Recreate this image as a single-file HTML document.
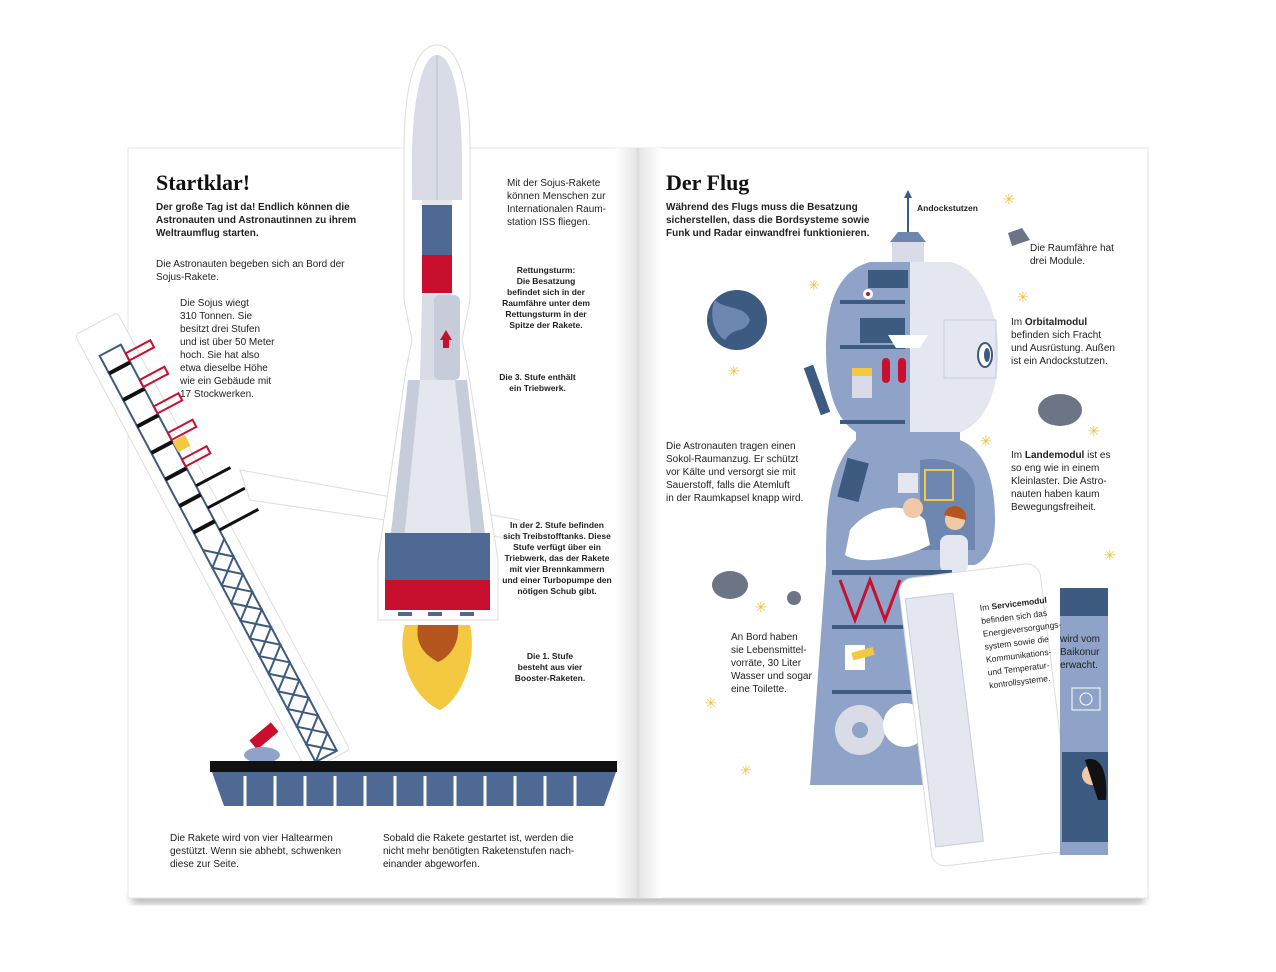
<!DOCTYPE html>
<html><head><meta charset="utf-8"><style>
html,body{margin:0;padding:0;background:#fff;}
body{width:1276px;height:972px;position:relative;overflow:hidden;font-family:"Liberation Sans",sans-serif;color:#222;}
.t{position:absolute;font-size:10px;line-height:13px;color:#222;white-space:nowrap;}
.b{font-weight:bold;font-size:8.5px;line-height:11px;text-align:center;}
h1{position:absolute;margin:0;font-family:"Liberation Serif",serif;font-size:22px;font-weight:bold;color:#111;}
</style></head><body>
<svg width="1276" height="972" style="position:absolute;left:0;top:0">
<defs>
<linearGradient id="gut" x1="0" x2="1"><stop offset="0" stop-color="#fff"/><stop offset="0.45" stop-color="#e6e6e6"/><stop offset="0.5" stop-color="#d9d9d9"/><stop offset="0.55" stop-color="#e6e6e6"/><stop offset="1" stop-color="#fff"/></linearGradient>
<filter id="sh"><feGaussianBlur stdDeviation="4"/></filter>
</defs>
<rect x="132" y="890" width="1012" height="14" fill="#bbb" filter="url(#sh)"/>
<rect x="128" y="148" width="1020" height="750" fill="#fff" stroke="#e6e6e6"/>
<rect x="615" y="148" width="46" height="750" fill="url(#gut)"/>
<polygon points="240,470 520,520 520,540 250,500" fill="#fff" stroke="#ddd"/>
<g transform="translate(75,335) rotate(-28)">
<rect x="0" y="0" width="48" height="495" rx="4" fill="#fff" stroke="#ddd"/>
<rect x="12" y="30" width="24" height="460" fill="none" stroke="#3d5a80" stroke-width="2"/>
<path d="M12,250 L36,270 L12,290 L36,310 L12,330 L36,350 L12,370 L36,390 L12,410 L36,430 L12,450 L36,470 L12,490" stroke="#3d5a80" stroke-width="2" fill="none"/>
<path d="M36,250 L12,270 L36,290 L12,310 L36,330 L12,350 L36,370 L12,390 L36,410 L12,430 L36,450 L12,470 L36,490" stroke="#3d5a80" stroke-width="2" fill="none"/>
<g stroke="#111" stroke-width="4"><line x1="12" y1="50" x2="36" y2="50"/><line x1="12" y1="80" x2="36" y2="80"/><line x1="12" y1="110" x2="36" y2="110"/><line x1="12" y1="140" x2="36" y2="140"/><line x1="12" y1="170" x2="36" y2="170"/><line x1="12" y1="200" x2="36" y2="200"/><line x1="12" y1="230" x2="36" y2="230"/></g>
<g stroke="#c8102e" stroke-width="2" fill="none"><rect x="36" y="40" width="28" height="8"/><rect x="36" y="70" width="28" height="8"/><rect x="36" y="100" width="28" height="8"/><rect x="36" y="130" width="28" height="8"/><rect x="36" y="160" width="28" height="8"/></g>
<rect x="36" y="140" width="14" height="12" fill="#f5c842"/>
<g stroke="#111" stroke-width="3"><line x1="36" y1="190" x2="75" y2="190"/><line x1="36" y1="215" x2="78" y2="215"/><line x1="36" y1="240" x2="80" y2="240"/></g>
</g>
<rect x="250" y="730" width="28" height="12" fill="#c8102e" transform="rotate(-40 264 736)"/>
<ellipse cx="262" cy="755" rx="18" ry="8" fill="#8fa3c8"/>
<rect x="210" y="761" width="407" height="11" fill="#111"/>
<polygon points="212,772 616,772 604,806 224,806" fill="#4d6994"/>
<g stroke="#fff" stroke-width="3">
<line x1="245" y1="776" x2="245" y2="806"/><line x1="275" y1="776" x2="275" y2="806"/><line x1="305" y1="776" x2="305" y2="806"/><line x1="335" y1="776" x2="335" y2="806"/><line x1="365" y1="776" x2="365" y2="806"/><line x1="395" y1="776" x2="395" y2="806"/><line x1="425" y1="776" x2="425" y2="806"/><line x1="455" y1="776" x2="455" y2="806"/><line x1="485" y1="776" x2="485" y2="806"/><line x1="515" y1="776" x2="515" y2="806"/><line x1="545" y1="776" x2="545" y2="806"/><line x1="575" y1="776" x2="575" y2="806"/>
</g>
<path d="M437,45 C460,45 470,90 470,150 L470,300 L462,340 L468,370 L498,560 L498,620 L378,620 L378,560 L406,370 L412,340 L404,300 L404,150 C404,90 414,45 437,45 Z" fill="#fff" stroke="#ddd"/>
<path d="M437,55 C455,55 462,110 462,160 L462,200 L412,200 L412,160 C412,110 420,55 437,55 Z" fill="#d9dce6"/>
<line x1="437" y1="55" x2="437" y2="200" stroke="#b9c0d2"/>
<rect x="422" y="200" width="30" height="95" fill="#e4e7ef"/>
<rect x="422" y="205" width="30" height="50" fill="#4d6994"/>
<rect x="422" y="255" width="30" height="38" fill="#c8102e"/>
<polygon points="422,295 452,295 455,380 420,380" fill="#d9dce6"/>
<rect x="434" y="295" width="26" height="85" rx="6" fill="#c6ccda"/>
<polygon points="446,330 440,340 452,340" fill="#c8102e"/><rect x="443" y="338" width="6" height="10" fill="#c8102e"/>
<polygon points="420,380 455,380 490,560 490,610 385,610 385,560" fill="#e4e7ef"/>
<polygon points="408,380 420,380 402,560 388,560" fill="#c6ccda"/>
<polygon points="455,380 467,380 488,560 474,560" fill="#c6ccda"/>
<rect x="385" y="533" width="105" height="47" fill="#4d6994"/>
<rect x="385" y="580" width="105" height="30" fill="#c8102e"/>
<g fill="#4d6994"><rect x="398" y="612" width="14" height="4"/><rect x="428" y="612" width="14" height="4"/><rect x="460" y="612" width="14" height="4"/></g>
<path d="M405,625 L470,625 C478,660 460,700 440,710 C415,700 395,660 405,625 Z" fill="#f5c842"/>
<path d="M418,625 L458,625 C460,645 448,658 438,662 C425,655 415,645 418,625 Z" fill="#b5561e"/>
<circle cx="737" cy="320" r="30" fill="#3d5a80"/>
<path d="M715,300 C725,310 745,305 750,320 C745,335 735,325 725,340 C715,335 708,315 715,300Z" fill="#6d87b0"/>
<path d="M1008,233 L1022,228 L1030,240 L1012,246Z" fill="#6b7585"/>
<ellipse cx="1060" cy="410" rx="22" ry="16" fill="#6b7585"/>
<ellipse cx="730" cy="585" rx="18" ry="14" fill="#6b7585"/>
<circle cx="794" cy="598" r="7" fill="#6b7585"/>
<g fill="#f0c040" font-size="14"><text x="1003" y="204">✳</text><text x="1017" y="302">✳</text><text x="1088" y="436">✳</text><text x="980" y="446">✳</text><text x="728" y="376">✳</text><text x="808" y="290">✳</text><text x="755" y="612">✳</text><text x="705" y="708">✳</text><text x="740" y="775">✳</text><text x="1012" y="815">✳</text><text x="978" y="836">✳</text><text x="1104" y="560">✳</text></g>
<line x1="908" y1="192" x2="908" y2="240" stroke="#3d5a80" stroke-width="2"/>
<polygon points="908,190 904,198 912,198" fill="#3d5a80"/>
<polygon points="890,242 926,242 918,232 898,232" fill="#6d87b0"/>
<rect x="892" y="242" width="32" height="20" fill="#d9dce6"/>
<path d="M870,262 L950,262 C985,270 998,320 998,350 C998,400 980,425 960,432 L960,440 C985,450 995,480 995,520 C995,550 985,560 975,565 L960,565 L960,785 L810,785 L826,565 C826,520 826,470 856,440 L856,432 C836,420 826,390 826,350 C826,300 840,270 870,262 Z" fill="#8fa3c8"/>
<path d="M910,262 L950,262 C985,270 998,320 998,350 C998,400 980,425 960,432 L910,432 Z" fill="#e4e7ef"/>
<ellipse cx="985" cy="355" rx="7" ry="12" fill="#fff" stroke="#3d5a80" stroke-width="2"/><ellipse cx="987" cy="355" rx="3" ry="7" fill="#3d5a80"/>
<rect x="944" y="320" width="52" height="58" fill="none" stroke="#c6ccda"/>
<g fill="#3d5a80"><rect x="840" y="300" width="65" height="4"/><rect x="840" y="345" width="65" height="4"/><rect x="840" y="420" width="65" height="4"/><rect x="868" y="270" width="40" height="18"/><rect x="860" y="318" width="45" height="25"/></g>
<rect x="882" y="358" width="8" height="25" rx="4" fill="#c8102e"/><rect x="898" y="358" width="8" height="25" rx="4" fill="#c8102e"/>
<rect x="852" y="368" width="20" height="30" fill="#d9dce6"/><rect x="852" y="368" width="20" height="8" fill="#f5c842"/>
<path d="M888,335 L928,335 L920,348 L896,348Z" fill="#fff"/>
<circle cx="868" cy="294" r="5" fill="#fff"/><circle cx="868" cy="294" r="2" fill="#c8102e"/>
<rect x="812" y="365" width="10" height="50" fill="#3d5a80" transform="rotate(-20 817 390)"/>
<path d="M920,460 C950,455 975,470 975,490 L975,550 L920,550Z" fill="#6d87b0"/>
<rect x="925" y="470" width="28" height="30" fill="none" stroke="#f5c842" stroke-width="2"/>
<rect x="842" y="460" width="22" height="40" fill="#3d5a80" transform="rotate(15 853 480)"/>
<rect x="898" y="473" width="20" height="20" fill="#e4e7ef"/>
<path d="M850,530 C870,505 905,500 925,520 L930,545 C900,560 860,565 845,555Z" fill="#fff"/>
<circle cx="913" cy="508" r="10" fill="#f2c9a8"/>
<circle cx="955" cy="520" r="10" fill="#f2c9a8"/><path d="M944,515 C948,500 968,505 966,520" fill="#b5561e"/>
<rect x="940" y="535" width="28" height="38" rx="8" fill="#e4e7ef"/>
<rect x="832" y="570" width="120" height="5" fill="#3d5a80"/>
<path d="M840,580 L855,620 L870,580 L885,620 L900,580" stroke="#c8102e" stroke-width="3" fill="none"/>
<rect x="832" y="625" width="100" height="4" fill="#3d5a80"/>
<rect x="845" y="645" width="20" height="25" fill="#fff"/><rect x="852" y="650" width="22" height="8" fill="#f5c842" transform="rotate(-15 862 654)"/>
<rect x="832" y="690" width="80" height="4" fill="#3d5a80"/>
<circle cx="860" cy="730" r="25" fill="#d9dce6"/><circle cx="860" cy="730" r="8" fill="#8fa3c8"/>
<circle cx="905" cy="725" r="22" fill="#fff"/>
<g transform="rotate(-7 985 715)">
<rect x="915" y="570" width="142" height="290" rx="14" fill="#fff" stroke="#ddd"/>
<rect x="920" y="590" width="48" height="250" fill="#e4e7ef" stroke="#c6ccda"/>
</g>
<path d="M1060,588 L1095,588 C1104,590 1108,598 1108,605 L1108,855 L1060,855 Z" fill="#8fa3c8"/>
<rect x="1060" y="588" width="48" height="28" fill="#3d5a80"/>
<rect x="1072" y="688" width="28" height="22" fill="none" stroke="#fff"/><circle cx="1086" cy="699" r="6" fill="none" stroke="#fff"/>
<rect x="1062" y="752" width="46" height="90" fill="#3d5a80"/>
<circle cx="1092" cy="775" r="10" fill="#f2c9a8"/><path d="M1085,760 C1100,755 1108,770 1106,800 L1098,800Z" fill="#111"/>
</svg>

<h1 style="left:156px;top:170px">Startklar!</h1>
<div class="t" style="left:156px;top:201px;font-weight:bold;">Der große Tag ist da! Endlich können die<br>Astronauten und Astronautinnen zu ihrem<br>Weltraumflug starten.</div>
<div class="t" style="left:156px;top:258px;">Die Astronauten begeben sich an Bord der<br>Sojus-Rakete.</div>
<div class="t" style="left:180px;top:297px;">Die Sojus wiegt<br>310 Tonnen. Sie<br>besitzt drei Stufen<br>und ist über 50 Meter<br>hoch. Sie hat also<br>etwa dieselbe Höhe<br>wie ein Gebäude mit<br>17 Stockwerken.</div>
<div class="t" style="left:507px;top:177px;">Mit der Sojus-Rakete<br>können Menschen zur<br>Internationalen Raum-<br>station ISS fliegen.</div>
<div class="t b" style="left:496px;top:265px;width:100px;">Rettungsturm:<br>Die Besatzung<br>befindet sich in der<br>Raumfähre unter dem<br>Rettungsturm in der<br>Spitze der Rakete.</div>
<div class="t b" style="left:490px;top:372px;width:95px;">Die 3. Stufe enthält<br>ein Triebwerk.</div>
<div class="t b" style="left:497px;top:520px;width:120px;">In der 2. Stufe befinden<br>sich Treibstofftanks. Diese<br>Stufe verfügt über ein<br>Triebwerk, das der Rakete<br>mit vier Brennkammern<br>und einer Turbopumpe den<br>nötigen Schub gibt.</div>
<div class="t b" style="left:505px;top:651px;width:90px;">Die 1. Stufe<br>besteht aus vier<br>Booster-Raketen.</div>
<div class="t" style="left:170px;top:832px;">Die Rakete wird von vier Haltearmen<br>gestützt. Wenn sie abhebt, schwenken<br>diese zur Seite.</div>
<div class="t" style="left:383px;top:832px;">Sobald die Rakete gestartet ist, werden die<br>nicht mehr benötigten Raketenstufen nach-<br>einander abgeworfen.</div>

<h1 style="left:666px;top:170px">Der Flug</h1>
<div class="t" style="left:666px;top:201px;font-weight:bold;">Während des Flugs muss die Besatzung<br>sicherstellen, dass die Bordsysteme sowie<br>Funk und Radar einwandfrei funktionieren.</div>
<div class="t" style="left:917px;top:202px;font-size:8.5px;font-weight:bold;">Andockstutzen</div>
<div class="t" style="left:1030px;top:242px;">Die Raumfähre hat<br>drei Module.</div>
<div class="t" style="left:1011px;top:316px;">Im <b>Orbitalmodul</b><br>befinden sich Fracht<br>und Ausrüstung. Außen<br>ist ein Andockstutzen.</div>
<div class="t" style="left:1011px;top:449px;">Im <b>Landemodul</b> ist es<br>so eng wie in einem<br>Kleinlaster. Die Astro-<br>nauten haben kaum<br>Bewegungsfreiheit.</div>
<div class="t" style="left:666px;top:440px;">Die Astronauten tragen einen<br>Sokol-Raumanzug. Er schützt<br>vor Kälte und versorgt sie mit<br>Sauerstoff, falls die Atemluft<br>in der Raumkapsel knapp wird.</div>
<div class="t" style="left:731px;top:631px;">An Bord haben<br>sie Lebensmittel-<br>vorräte, 30 Liter<br>Wasser und sogar<br>eine Toilette.</div>
<div class="t" style="left:979px;top:602px;font-size:8.5px;line-height:13px;transform:rotate(-7deg);transform-origin:left top;">Im <b>Servicemodul</b><br>befinden sich das<br>Energieversorgungs-<br>system sowie die<br>Kommunikations-<br>und Temperatur-<br>kontrollsysteme.</div>
<div class="t" style="left:1060px;top:633px;width:48px;overflow:hidden;">wird vom<br>Baikonur<br>erwacht.</div>
</body></html>
